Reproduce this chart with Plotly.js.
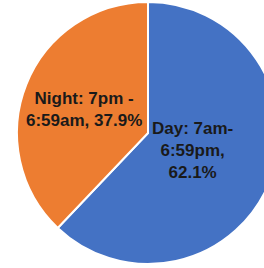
<!DOCTYPE html>
<html>
<head>
<meta charset="utf-8">
<script src="https://cdn.plot.ly/plotly-3.0.1.min.js"></script>
<style>
html,body{margin:0;padding:0;overflow:hidden;background:#fff;width:264px;height:268px;}
#chart{width:296px;height:268px;}
</style>
</head>
<body>
<div id="chart"></div>
<script>
const categories = ["Day", "Night"];
const values = [62.1, 37.9];
const labelTexts = ["Day: 7am-<br>6:59pm,<br>62.1%", "Night: 7pm -<br>6:59am, 37.9%"];
const colors = ["#4472C4", "#ED7D31"];

const labelFont = {family: "Liberation Sans, sans-serif", size: 17, color: "#1a1a1a", weight: "bold"};
const labelPos = [{x: 0.652, y: 0.437}, {x: 0.284, y: 0.590}];

Plotly.newPlot("chart", [{
  type: "pie",
  labels: categories,
  values: values,
  textinfo: "none",
  sort: false,
  direction: "clockwise",
  rotation: 0,
  marker: {colors: colors, line: {color: "#ffffff", width: 2}},
  domain: {x: [0, 1], y: [0.0149, 0.9925]},
  hoverinfo: "none"
}], {
  width: 296, height: 268,
  margin: {l: 0, r: 0, t: 0, b: 0},
  showlegend: false,
  paper_bgcolor: "#ffffff",
  annotations: labelTexts.map((t, i) => ({
    text: t, xref: "paper", yref: "paper",
    x: labelPos[i].x, y: labelPos[i].y,
    xanchor: "center", yanchor: "middle",
    showarrow: false, align: "center", font: labelFont
  }))
}, {staticPlot: true});
</script>
</body>
</html>
